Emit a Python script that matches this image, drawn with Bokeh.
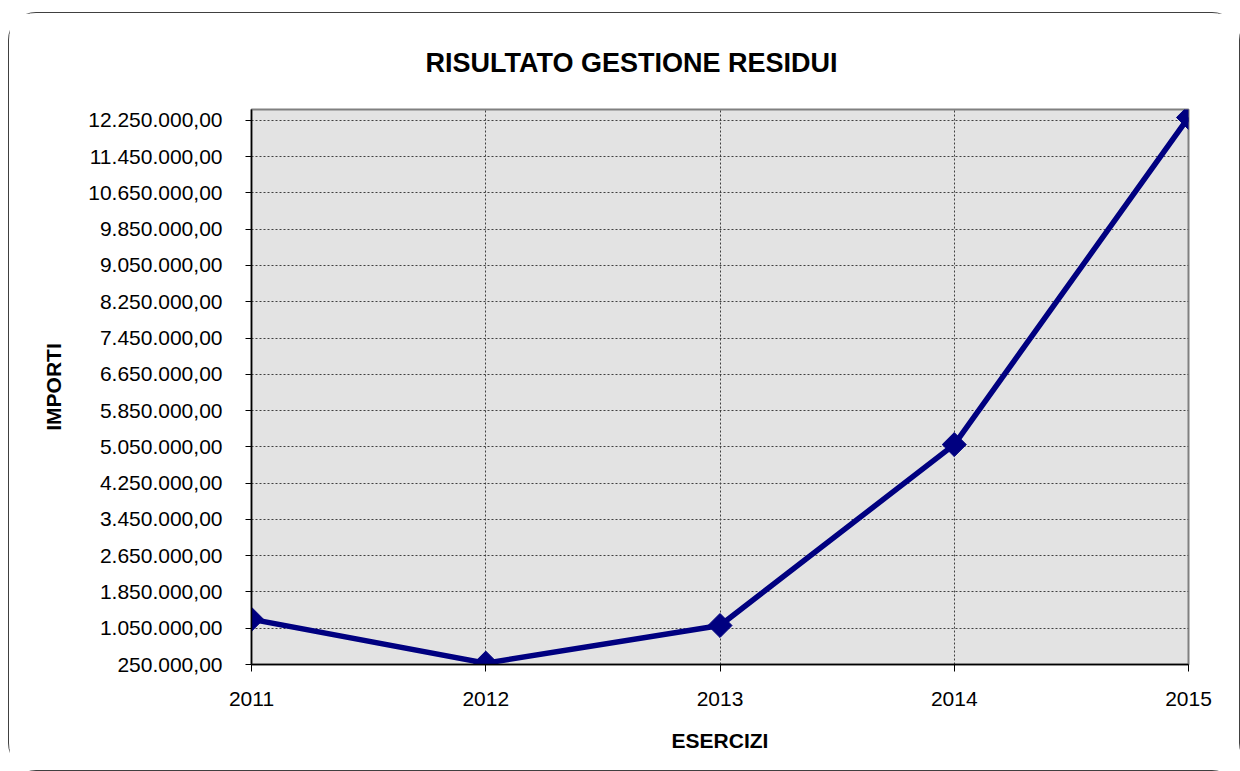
from bokeh.plotting import figure
from bokeh.models import FixedTicker, Range1d, Title, ColumnDataSource
from bokeh.embed import file_html
from bokeh.resources import INLINE

years = [2011, 2012, 2013, 2014, 2015]
importi = [1248000, 280000, 1110000, 5100000, 12315000]

y_ticks = [250000, 1050000, 1850000, 2650000, 3450000, 4250000, 5050000,
           5850000, 6650000, 7450000, 8250000, 9050000, 9850000, 10650000,
           11450000, 12250000]
y_labels = ["250.000,00", "1.050.000,00", "1.850.000,00", "2.650.000,00",
            "3.450.000,00", "4.250.000,00", "5.050.000,00", "5.850.000,00",
            "6.650.000,00", "7.450.000,00", "8.250.000,00", "9.050.000,00",
            "9.850.000,00", "10.650.000,00", "11.450.000,00", "12.250.000,00"]
x_labels = ["2011", "2012", "2013", "2014", "2015"]

FONT = "Liberation Sans"

p = figure(width=1232, height=759, output_backend="svg", toolbar_location=None,
           x_range=Range1d(2011, 2015), y_range=Range1d(250000, 12490000),
           min_border_left=242, min_border_right=53, min_border_top=96,
           min_border_bottom=108)
p.styles = {"border": "1px solid #404040", "border-radius": "28px",
            "margin-top": "12px", "margin-left": "8px",
            "box-sizing": "border-box"}

t = Title(text="RISULTATO GESTIONE RESIDUI", align="left", offset=174,
          text_font=FONT, text_font_size="27px", text_font_style="bold",
          text_color="#000000", standoff=64)
p.add_layout(t, "above")

p.background_fill_color = "#e3e3e3"
p.border_fill_color = "#ffffff"
p.outline_line_color = "#808080"
p.outline_line_width = 2

# axes
p.yaxis.ticker = FixedTicker(ticks=y_ticks)
p.yaxis.major_label_overrides = {t_: l for t_, l in zip(y_ticks, y_labels)}
p.xaxis.ticker = FixedTicker(ticks=years)
p.xaxis.major_label_overrides = {y: l for y, l in zip(years, x_labels)}
for ax in (p.xaxis, p.yaxis):
    ax.major_label_text_font = FONT
    ax.major_label_text_font_size = "21px"
    ax.major_label_text_color = "#000000"
    ax.axis_label_text_font = FONT
    ax.axis_label_text_font_size = "21px"
    ax.axis_label_text_font_style = "bold"
    ax.axis_label_text_color = "#000000"
    ax.axis_line_color = "#000000"
    ax.axis_line_width = 1.5
    ax.major_tick_line_color = "#000000"
    ax.minor_tick_line_color = None
    ax.major_tick_in = 0
p.xaxis.major_tick_out = 7
p.yaxis.major_tick_out = 6
p.yaxis.major_label_standoff = 23
p.xaxis.major_label_standoff = 20
p.xaxis.axis_label = "ESERCIZI"
p.yaxis.axis_label = "IMPORTI"
p.xaxis.axis_label_standoff = 20
p.yaxis.axis_label_standoff = 20

p.xgrid.grid_line_color = "#404040"
p.xgrid.grid_line_dash = "2 2"
p.ygrid.grid_line_color = "#404040"
p.ygrid.grid_line_dash = "2 2"

src = ColumnDataSource(dict(x=years, y=importi))
p.line("x", "y", source=src, line_color="#000080", line_width=5.5)
p.scatter("x", "y", source=src, marker="square", size=17, angle=0.785398,
          fill_color="#000080", line_color="#000080")

open("out.html", "w").write(file_html(p, INLINE))
